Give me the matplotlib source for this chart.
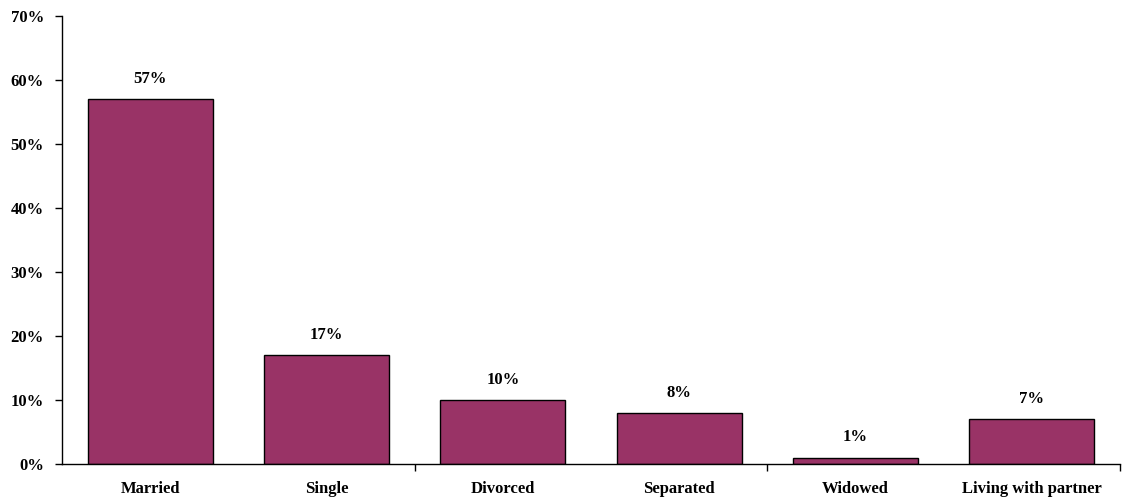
import matplotlib.pyplot as plt
import numpy as np

categories = ["Married", "Single", "Divorced", "Separated", "Widowed", "Living with partner"]
shares = [57, 17, 10, 8, 1, 7]
y_ticks = [0, 10, 20, 30, 40, 50, 60, 70]

plt.rcParams['font.family'] = ['Liberation Serif', 'DejaVu Serif']
plt.rcParams['font.weight'] = 'bold'

fig = plt.figure(figsize=(11.23, 5.04), dpi=100)
ax = fig.add_axes([62 / 1123, 40 / 504, 1058 / 1123, 448 / 504])

x = np.arange(len(categories))
bars = ax.bar(x, shares, width=0.71, color='#993366', edgecolor='black', linewidth=1)

for xi, v in zip(x, shares):
    ax.text(xi, v + 1.9, f"{v}%", ha='center', va='bottom', fontsize=12, fontweight='bold')

ax.set_xlim(-0.5, len(categories) - 0.5)
ax.set_ylim(0, 70)
ax.set_yticks(y_ticks)
ax.set_yticklabels([f"{t}%" for t in y_ticks], fontsize=12, fontweight='bold')
ax.tick_params(axis='y', length=5, width=1, pad=8)

# category labels without tick marks, ticks only every other boundary
ax.set_xticks(x)
ax.set_xticklabels(categories, fontsize=12, fontweight='bold')
ax.tick_params(axis='x', length=0, pad=12)
ax.set_xticks([1.5, 3.5, 5.5], minor=True)
ax.tick_params(axis='x', which='minor', length=5, width=1, direction='out')

for side in ['top', 'right']:
    ax.spines[side].set_visible(False)
ax.spines['left'].set_linewidth(1)
ax.spines['bottom'].set_linewidth(1)

fig.savefig('out.png', dpi=100)
